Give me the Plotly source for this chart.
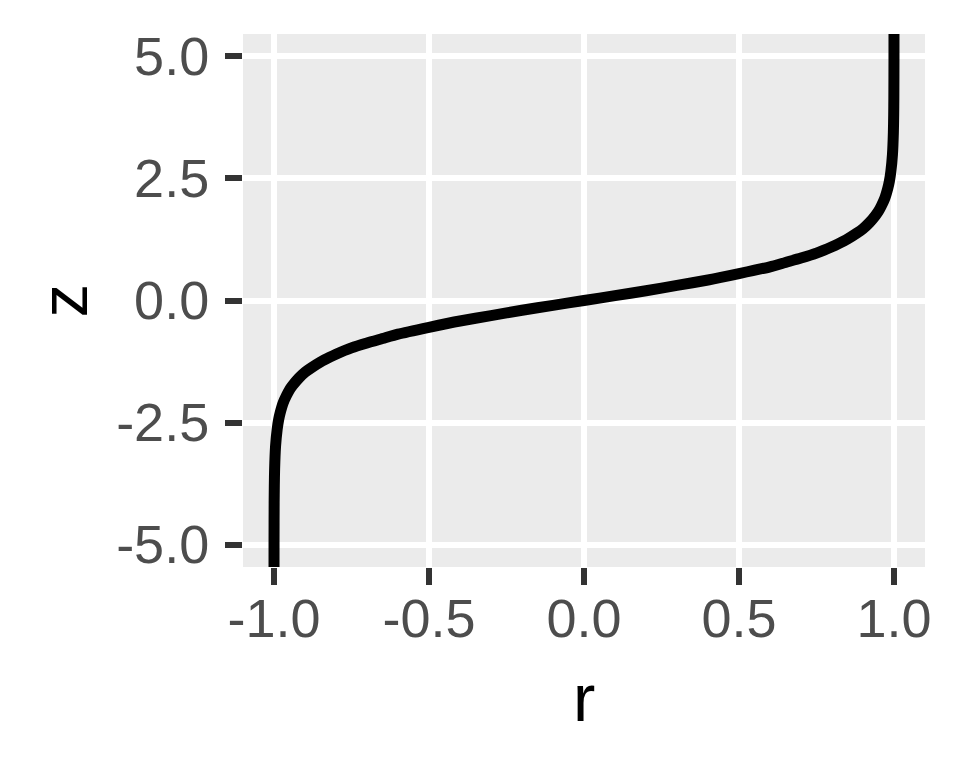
import plotly.graph_objects as go

# Values (r on x, z on y)
r_values = [-0.99998, -0.9999, -0.9995, -0.999, -0.998, -0.995, -0.99, -0.985, -0.98,
            -0.97, -0.96, -0.95, -0.94, -0.92, -0.90, -0.88, -0.85, -0.82, -0.80,
            -0.75, -0.70, -0.65, -0.60, -0.50, -0.40, -0.30, -0.20, -0.10, 0.0,
            0.10, 0.20, 0.30, 0.40, 0.50, 0.60, 0.65, 0.70, 0.75, 0.80, 0.82,
            0.85, 0.88, 0.90, 0.92, 0.94, 0.95, 0.96, 0.97, 0.98, 0.985, 0.99,
            0.995, 0.998, 0.999, 0.9995, 0.9999, 0.99998]
z_values = [-5.76, -4.95, -4.15, -3.80, -3.45, -2.99, -2.65, -2.44, -2.30,
            -2.09, -1.95, -1.83, -1.74, -1.59, -1.47, -1.38, -1.26, -1.16, -1.10,
            -0.97, -0.87, -0.78, -0.69, -0.55, -0.42, -0.31, -0.20, -0.10, 0.0,
            0.10, 0.20, 0.31, 0.42, 0.55, 0.69, 0.78, 0.87, 0.97, 1.10, 1.16,
            1.26, 1.38, 1.47, 1.59, 1.74, 1.83, 1.95, 2.09, 2.30, 2.44, 2.65,
            2.99, 3.45, 3.80, 4.15, 4.95, 5.76]

x_ticks = [-1.0, -0.5, 0.0, 0.5, 1.0]
x_tick_labels = ["-1.0", "-0.5", "0.0", "0.5", "1.0"]
y_ticks = [-5.0, -2.5, 0.0, 2.5, 5.0]
y_tick_labels = ["-5.0", "-2.5", "0.0", "2.5", "5.0"]

FONT = "Liberation Sans, Arial, sans-serif"

fig = go.Figure()
fig.add_trace(go.Scatter(x=r_values, y=z_values, mode="lines",
                         line=dict(color="black", width=11, shape="spline", smoothing=0.6),
                         showlegend=False, hoverinfo="skip"))

axis_common = dict(
    showgrid=True, gridcolor="white", gridwidth=5.7,
    zeroline=False, showline=False,
    ticks="outside", ticklen=17, tickwidth=5.5, tickcolor="#333333",
    tickfont=dict(family=FONT, size=54, color="#4D4D4D"),
    automargin=False,
)

fig.update_xaxes(range=[-1.1, 1.1], tickvals=x_ticks, ticktext=x_tick_labels,
                 ticklabelstandoff=-13, **axis_common)
fig.update_yaxes(range=[-5.46, 5.46], tickvals=y_ticks, ticktext=y_tick_labels,
                 ticklabelstandoff=5, **axis_common)

# the page adds an 8px body margin, so the figure is sized and offset to compensate
fig.update_layout(
    width=952, height=760,
    margin=dict(l=235, r=35, t=26, b=201),
    plot_bgcolor="#EBEBEB", paper_bgcolor="white",
    font=dict(family=FONT),
    annotations=[
        dict(text="r", xref="paper", yref="paper", x=0.5, y=0, xanchor="center",
             yanchor="middle", yshift=-130, showarrow=False,
             font=dict(family=FONT, size=67, color="black")),
        dict(text="z", xref="paper", yref="paper", x=0, y=0.5, xanchor="center",
             yanchor="middle", xshift=-180, textangle=-90, showarrow=False,
             font=dict(family=FONT, size=67, color="black")),
    ],
)

fig.write_html("out.html")
